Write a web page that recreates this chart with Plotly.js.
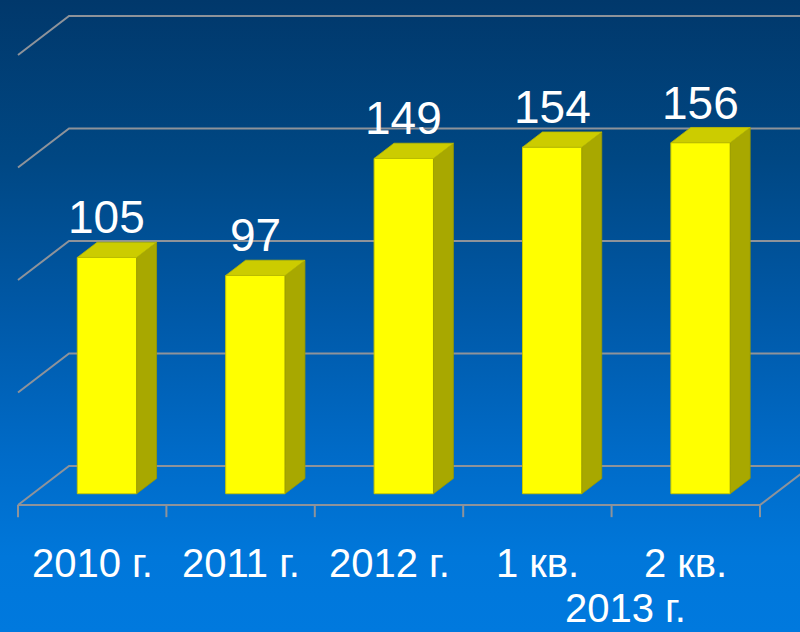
<!DOCTYPE html>
<html>
<head>
<meta charset="utf-8">
<script src="https://cdn.plot.ly/plotly-3.0.1.min.js"></script>
<style>
html, body { margin: 0; padding: 0; }
body {
  width: 800px; height: 632px; overflow: hidden;
  background: linear-gradient(to bottom, #01386b 0%, #004783 25%, #0059a8 50%, #006bc8 72%, #0077da 88%, #0079de 100%);
}
#chart { width: 800px; height: 632px; }
</style>
</head>
<body>
<div id="chart"></div>
<script>
// ---- data ----
const categories = ['2010 г.', '2011 г.', '2012 г.', '1 кв.', '2 кв.'];
const values = [105, 97, 149, 154, 156];
const groupLabel = '2013 г.';
const gridValues = [0, 50, 100, 150, 200];

// ---- pseudo-3D geometry (in axis units) ----
const DX = 0.3437;   // full depth offset along x
const DY = 17.33;    // full depth offset along y
const D0 = 0.29, D1 = 0.68; // bar front / back depth fractions
const BW = 0.4;      // bar width
const bdx = (D1 - D0) * DX, bdy = (D1 - D0) * DY;

const FRONT = '#ffff00', SIDE = '#a8a800', TOP = '#cccc00';
const GRID = '#8e939a';

const idx = categories.map((c, i) => i);
const traces = [];

// front faces: real bar trace
traces.push({
  type: 'bar',
  x: idx.map(i => i + D0 * DX),
  y: values,
  base: values.map(() => D0 * DY),
  width: BW,
  marker: { color: FRONT, line: { color: '#c9c900', width: 1 } },
  hoverinfo: 'skip'
});

// side and top faces
values.forEach((v, i) => {
  const xl = i + D0 * DX - BW / 2, xr = i + D0 * DX + BW / 2;
  const yb = D0 * DY, yt = D0 * DY + v;
  traces.push({
    type: 'scatter', mode: 'lines', fill: 'toself', fillcolor: SIDE,
    x: [xr, xr + bdx, xr + bdx, xr, xr],
    y: [yb, yb + bdy, yt + bdy, yt, yb],
    line: { color: '#9a9a00', width: 0.8 }, hoverinfo: 'skip'
  });
  traces.push({
    type: 'scatter', mode: 'lines', fill: 'toself', fillcolor: TOP,
    x: [xl, xr, xr + bdx, xl + bdx, xl],
    y: [yt, yt, yt + bdy, yt + bdy, yt],
    line: { color: '#b8b800', width: 0.8 }, hoverinfo: 'skip'
  });
});

// grid shapes (perspective)
const shapes = [];
const xL = -0.5, xEnd = 4.9, xR = categories.length - 0.5;
gridValues.forEach(g => {
  shapes.push({
    type: 'path', xref: 'x', yref: 'y', layer: 'below',
    path: `M ${xL},${g} L ${xL + DX},${g + DY} L ${xEnd},${g + DY}`,
    line: { color: GRID, width: 2 }
  });
});
// floor front edge and right edge
shapes.push({
  type: 'path', xref: 'x', yref: 'y', layer: 'below',
  path: `M ${xL},0 L ${xR},0 L ${xR + DX},${DY}`,
  line: { color: GRID, width: 2 }
});
// tick marks at category boundaries
for (let k = 0; k <= categories.length; k++) {
  shapes.push({
    type: 'line', xref: 'x', yref: 'y', layer: 'below',
    x0: xL + k, x1: xL + k, y0: 0, y1: -5.4,
    line: { color: GRID, width: 2 }
  });
}

// annotations
const FONT = 'Liberation Sans, Arial, sans-serif';
const annotations = [];
values.forEach((v, i) => {
  annotations.push({
    x: i + D0 * DX, y: v + D0 * DY, xref: 'x', yref: 'y',
    text: String(v), showarrow: false, xanchor: 'center', yanchor: 'bottom', yshift: 12,
    font: { family: FONT, size: 46, color: '#ffffff' }
  });
});
categories.forEach((c, i) => {
  annotations.push({
    x: i, y: -14.9, xref: 'x', yref: 'y',
    text: c, showarrow: false, xanchor: 'center', yanchor: 'top',
    font: { family: FONT, size: 40, color: '#ffffff' }
  });
});
annotations.push({
  x: 3.5, y: 0, xref: 'x', yref: 'paper', xshift: 14,
  text: groupLabel, showarrow: false, xanchor: 'center', yanchor: 'bottom',
  font: { family: FONT, size: 40, color: '#ffffff' }
});

const layout = {
  width: 800, height: 632,
  margin: { l: 0, r: 0, t: 0, b: 0, pad: 0 },
  paper_bgcolor: 'rgba(0,0,0,0)',
  plot_bgcolor: 'rgba(0,0,0,0)',
  showlegend: false,
  hovermode: false,
  xaxis: { range: [-0.6213, 4.7696], visible: false, fixedrange: true },
  yaxis: { range: [-56.44, 224.44], visible: false, fixedrange: true },
  shapes: shapes,
  annotations: annotations
};

Plotly.newPlot('chart', traces, layout, { staticPlot: true, displayModeBar: false });
</script>
</body>
</html>
